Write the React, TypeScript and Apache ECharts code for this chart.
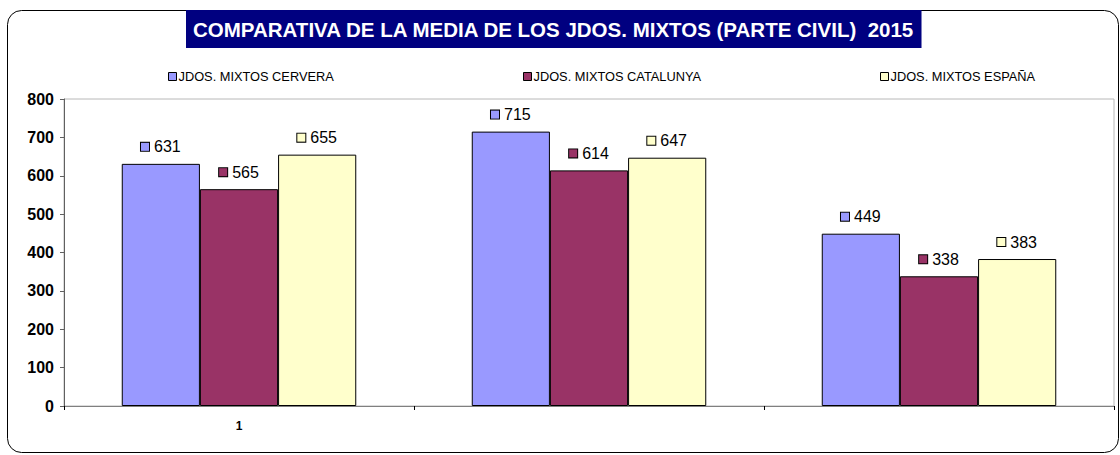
import React, { useEffect, useRef } from "react";
import * as echarts from "echarts";

const categories = ["1", "", ""];
const seriesNames = ["JDOS. MIXTOS CERVERA", "JDOS. MIXTOS CATALUNYA", "JDOS. MIXTOS ESPAÑA"];
const cervera = [631, 715, 449];
const catalunya = [565, 614, 338];
const espana = [655, 647, 383];
const colors = ["#9999FF", "#993366", "#FFFFCC"];
const yTicks = { min: 0, max: 800, interval: 100 };

export default function App() {
  const ref = useRef<HTMLDivElement>(null);
  useEffect(() => {
    document.body.style.margin = "0";
    const chart = echarts.init(ref.current!, null, { renderer: "svg" });
    const values = [cervera, catalunya, espana];
    const font = "Arial, 'Liberation Sans', sans-serif";
    const legendLefts = [163, 518, 875];
    chart.setOption({
      animation: false,
      textStyle: { fontFamily: font },
      title: {
        text: "COMPARATIVA DE LA MEDIA DE LOS JDOS. MIXTOS (PARTE CIVIL)  2015",
        left: 186,
        top: 10,
        backgroundColor: "#000080",
        padding: [9, 6, 8, 7],
        textStyle: { color: "#ffffff", fontSize: 20.5, fontWeight: "bold", fontFamily: font },
      },
      legend: seriesNames.map((n, i) => ({
        data: [n],
        left: legendLefts[i],
        top: 65,
        itemWidth: 8,
        itemHeight: 8,
        itemGap: 4,
        icon: "rect",
        itemStyle: { borderColor: "#000", borderWidth: 1 },
        textStyle: { fontSize: 12.8, color: "#000", fontFamily: font, padding: [0, 0, 0, -3] },
      })),
      graphic: [
        {
          type: "rect",
          z: -10,
          shape: { x: 7.5, y: 10.5, width: 1111, height: 442, r: 14 },
          style: { fill: "none", stroke: "#000", lineWidth: 1 },
        },
      ],
      grid: {
        left: 64,
        right: 6,
        top: 99,
        bottom: 49,
        show: true,
        borderColor: "#b8b8b8",
        borderWidth: 1,
        backgroundColor: "transparent",
      },
      xAxis: {
        type: "category",
        data: categories,
        axisLine: { lineStyle: { color: "#808080", width: 1 } },
        axisTick: { show: true, length: 4, lineStyle: { color: "#000" } },
        axisLabel: { fontSize: 12, fontWeight: "bold", color: "#000", margin: 14 },
      },
      yAxis: {
        type: "value",
        min: yTicks.min,
        max: yTicks.max,
        interval: yTicks.interval,
        axisLine: { show: true, lineStyle: { color: "#606060", width: 1 } },
        axisTick: { show: true, length: 4, lineStyle: { color: "#606060" } },
        splitLine: { show: false },
        axisLabel: { fontSize: 16, fontWeight: "bold", color: "#000", margin: 10, fontFamily: font },
      },
      series: seriesNames.map((n, i) => ({
        name: n,
        type: "bar",
        data: values[i],
        barGap: "0%",
        barCategoryGap: "33%",
        itemStyle: { color: colors[i], borderColor: "#000", borderWidth: 1 },
        label: {
          show: true,
          position: "top",
          distance: 9,
          formatter: "{m|}{v|{c}}",
          rich: {
            m: {
              width: 8,
              height: 8,
              backgroundColor: colors[i],
              borderColor: "#000",
              borderWidth: 1,
            },
            v: { fontSize: 16, color: "#000", fontFamily: font, padding: [0, 0, 0, 5] },
          },
        },
      })),
    });
    return () => chart.dispose();
  }, []);
  return <div ref={ref} style={{ width: 1120, height: 455 }} />;
}
